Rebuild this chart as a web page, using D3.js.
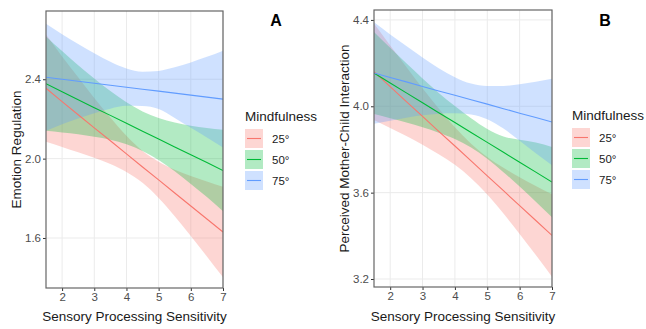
<!DOCTYPE html>
<html>
<head>
<meta charset="utf-8">
<script src="https://cdn.jsdelivr.net/npm/d3@7"></script>
<style>
    body { margin: 0; background: #fff; }
    svg { font-family: "Liberation Sans", Arial, sans-serif; }
</style>
</head>
<body>
<svg id="chart" width="646" height="329"></svg>
<script>
(function() {
    // x positions at which the fitted lines and bands were read
    var sps = [1.5, 2, 2.5, 3, 3.5, 4, 4.5, 5, 5.5, 6, 6.5, 7];

    var groups = ["25°", "50°", "75°"];
    var colors = ["#F8766D", "#00BA38", "#619CFF"];

    // A: Emotion Regulation
    var a_fit_25 = [2.355, 2.287, 2.221, 2.155, 2.090, 2.024, 1.958, 1.893, 1.827, 1.761, 1.696, 1.630];
    var a_lo_25  = [2.085, 2.059, 2.032, 2.004, 1.973, 1.933, 1.878, 1.802, 1.710, 1.610, 1.507, 1.402];
    var a_hi_25  = [2.625, 2.515, 2.410, 2.306, 2.207, 2.115, 2.038, 1.984, 1.944, 1.912, 1.885, 1.858];
    var a_fit_50 = [2.378, 2.337, 2.297, 2.257, 2.218, 2.178, 2.138, 2.099, 2.059, 2.019, 1.980, 1.940];
    var a_lo_50  = [2.140, 2.132, 2.123, 2.110, 2.095, 2.072, 2.038, 1.993, 1.936, 1.872, 1.806, 1.735];
    var a_hi_50  = [2.616, 2.542, 2.471, 2.404, 2.341, 2.284, 2.238, 2.205, 2.182, 2.166, 2.154, 2.145];
    var a_fit_75 = [2.410, 2.400, 2.390, 2.380, 2.370, 2.360, 2.350, 2.340, 2.330, 2.320, 2.310, 2.300];
    var a_lo_75  = [2.140, 2.173, 2.202, 2.229, 2.252, 2.266, 2.265, 2.250, 2.205, 2.155, 2.107, 2.056];
    var a_hi_75  = [2.680, 2.627, 2.578, 2.531, 2.488, 2.454, 2.438, 2.442, 2.460, 2.485, 2.513, 2.544];

    // B: Perceived Mother-Child Interaction
    var b_fit_25 = [4.160, 4.091, 4.022, 3.953, 3.884, 3.816, 3.747, 3.678, 3.609, 3.540, 3.471, 3.402];
    var b_lo_25  = [3.937, 3.900, 3.862, 3.822, 3.778, 3.729, 3.667, 3.591, 3.503, 3.409, 3.311, 3.211];
    var b_hi_25  = [4.383, 4.282, 4.182, 4.084, 3.990, 3.903, 3.827, 3.765, 3.715, 3.671, 3.631, 3.593];
    var b_fit_50 = [4.154, 4.108, 4.062, 4.016, 3.970, 3.925, 3.879, 3.833, 3.787, 3.741, 3.695, 3.649];
    var b_lo_50  = [3.964, 3.945, 3.925, 3.903, 3.878, 3.849, 3.809, 3.757, 3.695, 3.628, 3.558, 3.486];
    var b_hi_50  = [4.344, 4.271, 4.199, 4.129, 4.062, 4.001, 3.945, 3.895, 3.860, 3.845, 3.832, 3.812];
    var b_fit_75 = [4.154, 4.133, 4.113, 4.092, 4.071, 4.051, 4.030, 4.010, 3.989, 3.968, 3.948, 3.927];
    var b_lo_75  = [3.919, 3.933, 3.947, 3.958, 3.966, 3.968, 3.962, 3.940, 3.897, 3.840, 3.782, 3.727];
    var b_hi_75  = [4.389, 4.333, 4.279, 4.226, 4.176, 4.135, 4.105, 4.094, 4.094, 4.102, 4.114, 4.127];

    var x_ticks = [2, 3, 4, 5, 6, 7];
    var a_y_ticks = [1.6, 2.0, 2.4];
    var b_y_ticks = [3.2, 3.6, 4.0, 4.4];

    var panels = [
        {
            id: "a", tag: "A", ylab: "Emotion Regulation",
            left: 46, right: 223, top: 11, bottom: 288,
            y_domain: [1.348, 2.744], y_ticks: a_y_ticks,
            fits: [a_fit_25, a_fit_50, a_fit_75],
            los: [a_lo_25, a_lo_50, a_lo_75],
            his: [a_hi_25, a_hi_50, a_hi_75],
            ylab_x: 21, tag_x: 276, legend_x: 245, legend_y: 121
        },
        {
            id: "b", tag: "B", ylab: "Perceived Mother-Child Interaction",
            left: 374, right: 552, top: 10, bottom: 287,
            y_domain: [3.163, 4.446], y_ticks: b_y_ticks,
            fits: [b_fit_25, b_fit_50, b_fit_75],
            los: [b_lo_25, b_lo_50, b_lo_75],
            his: [b_hi_25, b_hi_50, b_hi_75],
            ylab_x: 349, tag_x: 605, legend_x: 572, legend_y: 120
        }
    ];

    var svg = d3.select("#chart");

    panels.forEach(function(p) {
        var x = d3.scaleLinear().domain([1.5, 7]).range([p.left, p.right]);
        var y = d3.scaleLinear().domain(p.y_domain).range([p.bottom, p.top]);

        var g = svg.append("g");

        g.append("clipPath")
            .attr("id", "clip_" + p.id)
            .append("rect")
            .attr("x", p.left).attr("y", p.top)
            .attr("width", p.right - p.left).attr("height", p.bottom - p.top);

        // grid
        g.selectAll(".vgrid")
            .data(x_ticks)
            .enter()
            .append("line")
            .attr("x1", d => x(d)).attr("x2", d => x(d))
            .attr("y1", p.top).attr("y2", p.bottom)
            .attr("stroke", "#ebebeb").attr("stroke-width", 1);

        g.selectAll(".hgrid")
            .data(p.y_ticks)
            .enter()
            .append("line")
            .attr("x1", p.left).attr("x2", p.right)
            .attr("y1", d => y(d)).attr("y2", d => y(d))
            .attr("stroke", "#ebebeb").attr("stroke-width", 1);

        var plot = g.append("g").attr("clip-path", "url(#clip_" + p.id + ")");

        var band = d3.area()
            .x(function(d, i) { return x(sps[i]); })
            .y0(function(d) { return y(d[0]); })
            .y1(function(d) { return y(d[1]); })
            .curve(d3.curveMonotoneX);

        var line = d3.line()
            .x(function(d, i) { return x(sps[i]); })
            .y(function(d) { return y(d); });

        groups.forEach(function(grp, k) {
            var rows = p.los[k].map(function(lo, i) { return [lo, p.his[k][i]]; });
            plot.append("path")
                .attr("d", band(rows))
                .attr("fill", colors[k])
                .attr("fill-opacity", 0.3);
        });

        groups.forEach(function(grp, k) {
            plot.append("path")
                .attr("d", line(p.fits[k]))
                .attr("fill", "none")
                .attr("stroke", colors[k])
                .attr("stroke-width", 1.1);
        });

        // axes
        var xAxis = d3.axisBottom(x).tickValues(x_ticks).tickSize(3).tickPadding(2).tickFormat(d3.format("d"));
        var yAxis = d3.axisLeft(y).tickValues(p.y_ticks).tickSize(3).tickPadding(2).tickFormat(d3.format(".1f"));

        var gx = g.append("g").attr("transform", "translate(0," + p.bottom + ")").call(xAxis);
        var gy = g.append("g").attr("transform", "translate(" + p.left + ",0)").call(yAxis);

        [gx, gy].forEach(function(ax) {
            ax.select(".domain").remove();
            ax.selectAll(".tick line").attr("stroke", "#333");
            ax.selectAll(".tick text")
                .attr("fill", "#4d4d4d")
                .style("font-size", "11.5px");
        });

        g.append("rect")
            .attr("x", p.left).attr("y", p.top)
            .attr("width", p.right - p.left).attr("height", p.bottom - p.top)
            .attr("fill", "none")
            .attr("stroke", "#666")
            .attr("stroke-width", 1.2);

        // titles
        g.append("text")
            .attr("x", (p.left + p.right) / 2)
            .attr("y", 321)
            .attr("text-anchor", "middle")
            .style("font-size", "13.5px")
            .attr("fill", "#1a1a1a")
            .text("Sensory Processing Sensitivity");

        g.append("text")
            .attr("transform", "translate(" + p.ylab_x + "," + (p.top + p.bottom) / 2 + ") rotate(-90)")
            .attr("text-anchor", "middle")
            .style("font-size", "13.5px")
            .attr("fill", "#1a1a1a")
            .text(p.ylab);

        g.append("text")
            .attr("x", p.tag_x)
            .attr("y", 26)
            .attr("text-anchor", "middle")
            .style("font-size", "16px")
            .style("font-weight", "bold")
            .text(p.tag);

        // legend
        var lg = g.append("g").attr("transform", "translate(" + p.legend_x + "," + p.legend_y + ")");

        lg.append("text")
            .attr("x", 0).attr("y", 0)
            .style("font-size", "13.5px")
            .attr("fill", "#1a1a1a")
            .text("Mindfulness");

        var keys = lg.selectAll(".key")
            .data(groups)
            .enter()
            .append("g")
            .attr("transform", function(d, i) { return "translate(0," + (8 + i * 21) + ")"; });

        keys.append("rect")
            .attr("width", 18).attr("height", 19)
            .attr("fill", function(d, i) { return colors[i]; })
            .attr("fill-opacity", 0.3);

        keys.append("line")
            .attr("x1", 2).attr("x2", 16)
            .attr("y1", 9.5).attr("y2", 9.5)
            .attr("stroke", function(d, i) { return colors[i]; })
            .attr("stroke-width", 1.1);

        keys.append("text")
            .attr("x", 27).attr("y", 14)
            .style("font-size", "11.5px")
            .attr("fill", "#1a1a1a")
            .text(function(d) { return d; });
    });
}());
</script>
</body>
</html>
